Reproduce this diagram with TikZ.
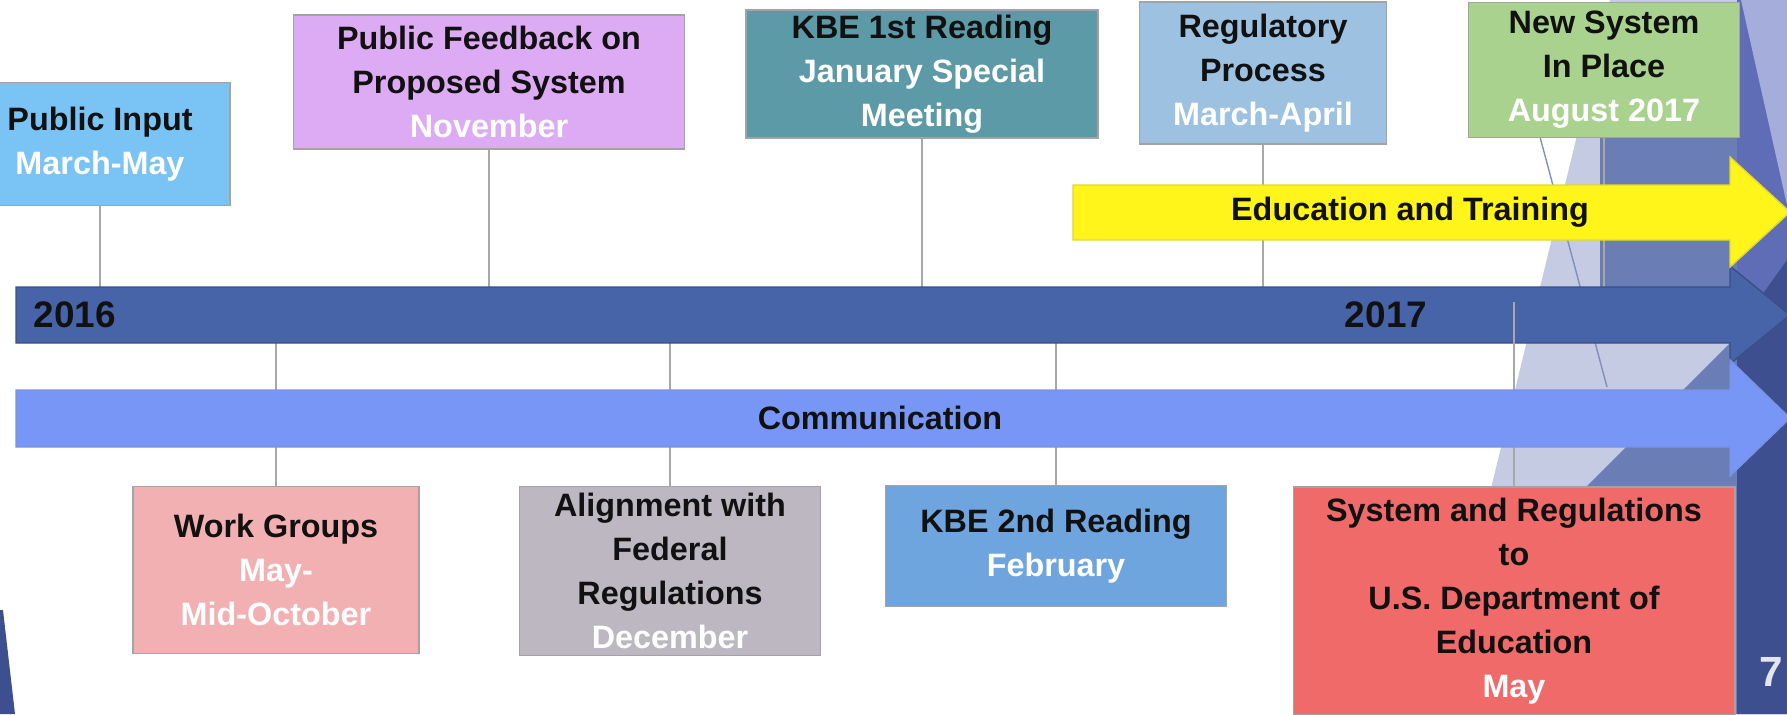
\documentclass[tikz,border=0pt]{standalone}
\usepackage{fontspec}
\setmainfont{Liberation Sans}

% box fills
\definecolor{inputblue}{HTML}{7AC3F5}
\definecolor{feedlilac}{HTML}{DDABF4}
\definecolor{kbeteal}{HTML}{5B9AA6}
\definecolor{regblue}{HTML}{9DC2E1}
\definecolor{newgreen}{HTML}{A9D28F}
\definecolor{wgpink}{HTML}{F3B0B3}
\definecolor{aligngray}{HTML}{BDB7C1}
\definecolor{kbesky}{HTML}{6FA5DE}
\definecolor{sysred}{HTML}{F06A6A}
% bars
\definecolor{yearbar}{HTML}{4764A8}
\definecolor{commbar}{HTML}{7796F6}
\definecolor{trainbar}{HTML}{FFF51A}
% lines, text, backdrop
\definecolor{boxedge}{HTML}{A3A3A3}
\definecolor{linkgray}{HTML}{A8A8A8}
\definecolor{inkdark}{HTML}{111111}
\definecolor{facetlight}{HTML}{C4CBE2}
\definecolor{facetslate}{HTML}{6B7DB5}
\definecolor{facetmid}{HTML}{5E6DB6}
\definecolor{facetlav}{HTML}{A5AEDB}
\definecolor{facetnavy}{HTML}{3D4F8F}
\definecolor{facetedge}{HTML}{8090B8}
\definecolor{numtint}{HTML}{E2E6F2}

\newcommand{\when}[1]{{\color{white}#1}}

\tikzset{
  evbox/.style={draw=boxedge, line width=0.5pt, align=center, inner sep=0pt,
    text=inkdark, font=\fontsize{9.2}{12.5}\selectfont\bfseries},
  conn/.style={draw=linkgray, line width=0.7pt},
  barlbl/.style={text=inkdark, inner sep=0pt, font=\fontsize{9.2}{12.5}\selectfont\bfseries},
  yearlbl/.style={text=inkdark, inner sep=0pt, font=\fontsize{10.5}{12}\selectfont\bfseries},
}

\begin{document}
\begin{tikzpicture}[x=0.01cm, y=-0.01cm]
  \useasboundingbox (0,0) rectangle (1787,714);
  \clip (0,0) rectangle (1787,714);

  % facets at the right edge and the sliver bottom left
  \fill[facetlight] (1610,0) -- (1436,714) -- (1787,714) -- (1787,0) -- cycle;
  \fill[facetslate] (1600,120) -- (1740,120) -- (1740,300) -- (1600,300) -- cycle;
  \fill[facetslate] (1586,487) -- (1787,286) -- (1787,714) -- (1586,714) -- cycle;
  \fill[facetmid] (1737,0) -- (1787,0) -- (1787,714) -- (1737,714) -- cycle;
  \fill[facetlav] (1741,0) -- (1787,0) -- (1787,205) -- cycle;
  \fill[facetnavy] (1737,330) -- (1787,260) -- (1787,714) -- (1737,714) -- cycle;
  \draw[facetedge, line width=0.4pt] (1540,137) -- (1607,387);
  \fill[facetnavy] (0,610) -- (3,610) -- (15,714) -- (0,714) -- cycle;

  \coordinate (tltop) at (0,287);
  \coordinate (tlbot) at (0,343);
  \coordinate (tlmid) at (0,302);

  % events above the line
  \node[evbox, fill=inputblue, minimum width=2.6cm, minimum height=1.23cm] (input) at (100,144)
    {Public Input\\\when{March-May}};
  \node[evbox, fill=feedlilac, minimum width=3.91cm, minimum height=1.34cm] (feedback) at (489,82)
    {Public Feedback on\\Proposed System\\\when{November}};
  \node[evbox, fill=kbeteal, minimum width=3.52cm, minimum height=1.28cm] (kbefirst) at (922,74)
    {KBE 1st Reading\\\when{January Special}\\\when{Meeting}};
  \node[evbox, fill=regblue, minimum width=2.47cm, minimum height=1.42cm] (regproc) at (1263,73)
    {Regulatory\\Process\\\when{March-April}};
  \node[evbox, fill=newgreen, minimum width=2.71cm, minimum height=1.35cm] (newsys) at (1604,70)
    {New System\\In Place\\\when{August 2017}};

  % events below the line
  \node[evbox, fill=wgpink, minimum width=2.86cm, minimum height=1.67cm] (workgrp) at (276,570)
    {Work Groups\\\when{May-}\\\when{Mid-October}};
  \node[evbox, fill=aligngray, minimum width=3.01cm, minimum height=1.69cm] (align) at (670,571)
    {Alignment with\\Federal\\Regulations\\\when{December}};
  \node[evbox, fill=kbesky, minimum width=3.41cm, minimum height=1.21cm] (kbesecond) at (1056,546)
    {KBE 2nd Reading\\\when{February}};
  \node[evbox, fill=sysred, minimum width=4.41cm, minimum height=2.28cm] (sysreg) at (1514,601)
    {System and Regulations\\to\\U.S. Department of\\Education\\\when{May}};

  % ticks to the year line
  \foreach \ev in {input, feedback, kbefirst, regproc, newsys}
    \draw[conn] (\ev.south) -- (\ev.south |- tltop);
  \foreach \ev in {workgrp, align, kbesecond}
    \draw[conn] (\ev.north) -- (\ev.north |- tlbot);

  % year line
  \fill[yearbar, draw=yearbar!80!black, line width=0.4pt]
    (16,287) -- (1730,287) -- (1730,266) -- (1790,315) -- (1730,364) -- (1730,343) -- (16,343) -- cycle;
  \draw[conn] (sysreg.north) -- (sysreg.north |- tlmid);

  % education and training
  \fill[trainbar, draw=trainbar!75!gray, line width=0.4pt]
    (1073,185) -- (1730,185) -- (1730,157) -- (1790,212) -- (1730,267) -- (1730,240) -- (1073,240) -- cycle;

  % communication
  \fill[commbar, draw=commbar!85!gray, line width=0.4pt]
    (16,390) -- (1730,390) -- (1730,360) -- (1790,418) -- (1730,476) -- (1730,447) -- (16,447) -- cycle;

  \node[yearlbl] (yrstart) at (75,315) {2016};
  \node[yearlbl] (yrnext) at (1386,315) {2017};
  \node[barlbl] (training) at (1410,212) {Education and Training};
  \node[barlbl] (comms) at (880,418) {Communication};
  \node[anchor=east, inner sep=0pt, text=numtint, font=\fontsize{12}{12}\selectfont\bfseries] (pgno) at (1784,672) {7};
\end{tikzpicture}
\end{document}
